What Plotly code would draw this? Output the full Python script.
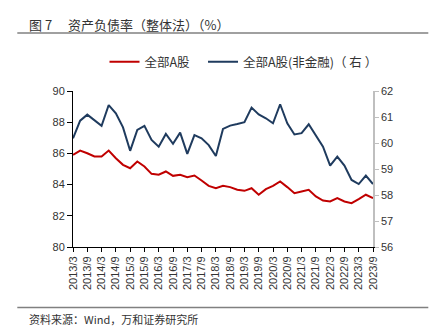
import plotly.graph_objects as go

# quarterly periods 2013Q1 .. 2023Q3
quarters = [f"{y}/{m}" for y in range(2013, 2024) for m in (3, 6, 9, 12)][:43]
tick_labels = [q for q in quarters if q.endswith("/3") or q.endswith("/9")]

series_all_a = [85.91, 86.18, 86.01, 85.80, 85.80, 86.18, 85.69, 85.27, 85.05, 85.48,
                85.16, 84.69, 84.63, 84.84, 84.56, 84.63, 84.48, 84.58, 84.26, 83.92,
                83.77, 83.92, 83.84, 83.67, 83.60, 83.77, 83.35, 83.71, 83.92, 84.20,
                83.84, 83.45, 83.56, 83.67, 83.24, 82.98, 82.92, 83.13, 82.92, 82.81,
                83.07, 83.35, 83.13]
series_nonfin = [60.18, 60.86, 61.09, 60.87, 60.66, 61.46, 61.14, 60.60, 59.70, 60.50,
                 60.66, 60.12, 59.86, 60.35, 59.97, 60.40, 59.58, 60.30, 60.18, 59.92,
                 59.50, 60.54, 60.67, 60.73, 60.80, 61.36, 61.10, 60.95, 60.76, 61.49,
                 60.76, 60.33, 60.38, 60.72, 60.31, 59.86, 59.13, 59.48, 59.13, 58.58,
                 58.42, 58.75, 58.42]

name_all = "全部A股\u00a0\u00a0\u00a0"
name_nonfin = "全部A股(非金融)（ 右 ）"
title_text = "图 7 　资产负债率（整体法）（%）"
source_text = "资料来源：Wind，万和证券研究所"

font_cjk = "Noto Sans CJK SC"
font_num = "Liberation Sans, Arial, Noto Sans CJK SC"

fig = go.Figure()
fig.add_trace(go.Scatter(x=quarters, y=series_all_a, name=name_all, mode="lines",
                         line=dict(color="#C00000", width=2)))
fig.add_trace(go.Scatter(x=quarters, y=series_nonfin, name=name_nonfin, mode="lines",
                         line=dict(color="#1F3B5E", width=2), yaxis="y2"))

W, H = 441, 333
L, R, T, B = 72.7, 68.3, 91, 85.7
PW, PH = W - L - R, H - T - B


def px_x(x):
    return (x - L) / PW


def px_y(y):
    return (H - B - y) / PH


fig.update_layout(
    width=W, height=H,
    margin=dict(l=L, r=R, t=T, b=B, pad=0),
    paper_bgcolor="white", plot_bgcolor="white",
    showlegend=True,
    legend=dict(orientation="h", x=0.105, xanchor="left", y=px_y(62), yanchor="middle",
                font=dict(family=font_cjk, size=12.5, color="#333333"),
                bgcolor="rgba(0,0,0,0)", itemwidth=30, tracegroupgap=0),
    xaxis=dict(type="category", range=[0, len(quarters) - 1],
               tickmode="array", tickvals=tick_labels, ticktext=tick_labels,
               tickangle=-90, ticks="outside", ticklen=4, tickcolor="#000",
               showline=True, linecolor="#000", linewidth=1, showgrid=False,
               tickfont=dict(family=font_num, size=11, color="#333333")),
    yaxis=dict(range=[80, 90], dtick=2, ticks="outside", ticklen=5, tickcolor="#000",
               showline=True, linecolor="#000", linewidth=1, showgrid=False, zeroline=False,
               tickfont=dict(family=font_num, size=11, color="#333333")),
    yaxis2=dict(range=[56, 62], dtick=1, overlaying="y", side="right",
                ticks="outside", ticklen=4, tickcolor="#BFBFBF",
                showline=True, linecolor="#BFBFBF", linewidth=1.5, showgrid=False, zeroline=False,
                tickfont=dict(family=font_num, size=11, color="#333333")),
    annotations=[
        dict(text=title_text, xref="paper", yref="paper",
             x=px_x(27), y=px_y(24),
             xanchor="left", yanchor="middle", showarrow=False,
             font=dict(family=font_cjk, size=13, color="#333333")),
        dict(text=source_text, xref="paper", yref="paper",
             x=px_x(27), y=px_y(319),
             xanchor="left", yanchor="middle", showarrow=False,
             font=dict(family=font_cjk, size=11, color="#333333")),
    ],
    shapes=[
        dict(type="line", xref="paper", yref="paper",
             x0=px_x(17), x1=px_x(428), y0=px_y(33), y1=px_y(33),
             line=dict(color="#808080", width=1.5)),
        dict(type="line", xref="paper", yref="paper",
             x0=px_x(17), x1=px_x(428), y0=px_y(308), y1=px_y(308),
             line=dict(color="#808080", width=1.5)),
    ],
)

fig.write_html("out.html")
